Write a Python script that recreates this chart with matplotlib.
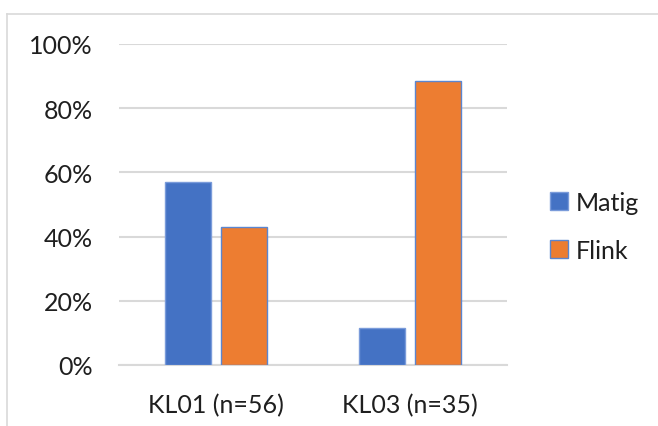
import matplotlib
matplotlib.use("Agg")
import matplotlib.pyplot as plt
from matplotlib.lines import Line2D
import numpy as np

categories = ["KL01 (n=56)", "KL03 (n=35)"]
series_names = ["Matig", "Flink"]
matig = [57.1, 11.4]
flink = [42.9, 88.6]
yticks = [0, 20, 40, 60, 80, 100]
ytick_labels = ["0%", "20%", "40%", "60%", "80%", "100%"]
colors = ["#4472C4", "#ED7D31"]

W, H = 658, 427
fig = plt.figure(figsize=(W / 100, H / 100), dpi=100)
plt.rcParams['font.family'] = ['Lato', 'DejaVu Sans']

# outer chart frame (partially visible)
fig.add_artist(Line2D([7 / W, 7 / W], [0, 1 - 15 / H], transform=fig.transFigure, color="#D9D9D9", lw=1.2))
fig.add_artist(Line2D([7 / W, 1], [1 - 15 / H, 1 - 15 / H], transform=fig.transFigure, color="#D9D9D9", lw=1.2))

left, right = 119 / W, 507 / W
bottom, top = 1 - 366 / H, 1 - 45 / H
ax = fig.add_axes([left, bottom, right - left, top - bottom])

x = np.arange(len(categories))
width = 0.237
off = 0.144
ax.bar(x - off, matig, width, color=colors[0], edgecolor="#7A9BDA", linewidth=1.0, label=series_names[0], zorder=3)
ax.bar(x + off, flink, width, color=colors[1], edgecolor="#5B86D0", linewidth=1.0, label=series_names[1], zorder=3)

ax.set_xlim(-0.5, 1.5)
ax.set_ylim(0, 100)
ax.set_yticks(yticks)
ax.set_yticklabels(ytick_labels)
ax.set_xticks(x)
ax.set_xticklabels(categories)
ax.yaxis.grid(True, color="#D9D9D9", lw=1.5, zorder=0)
ax.set_axisbelow(True)
for s in ["top", "right", "left"]:
    ax.spines[s].set_visible(False)
ax.spines["bottom"].set_color("#D9D9D9")
ax.spines["bottom"].set_linewidth(1.5)
ax.tick_params(axis="both", length=0, labelsize=18, colors="#1F1F1F")
ax.tick_params(axis="y", pad=19)
ax.tick_params(axis="x", pad=20)

ax.legend(loc="center left", bbox_to_anchor=(1.085, 0.433), frameon=False,
          fontsize=18, handlelength=0.72, handleheight=0.72, handletextpad=0.3,
          labelspacing=1.0, labelcolor="#1F1F1F", borderaxespad=0)

fig.savefig("out.png", dpi=100)
